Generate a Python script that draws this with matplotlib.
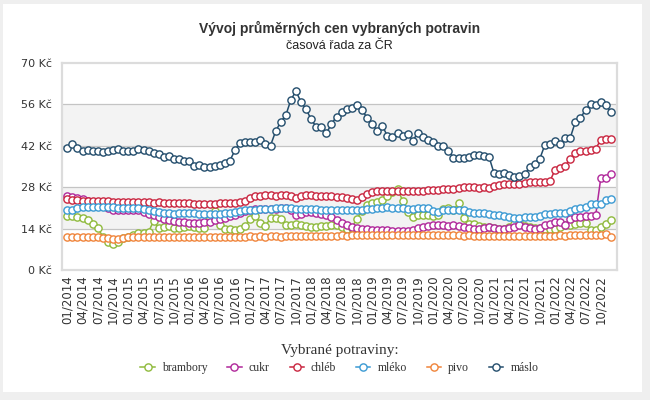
import matplotlib
matplotlib.use("Agg")
import matplotlib.pyplot as plt
from matplotlib.patches import Rectangle
from matplotlib.lines import Line2D

# mesicni prumerne ceny 01/2014 - 12/2022 (Kc)
years = list(range(2014, 2023))
months = [f"{m:02d}/{y}" for y in years for m in range(1, 13)]

brambory = [
    18.1, 18.1, 17.8, 17.5, 16.9, 15.6, 14.1, 11.3, 9.6, 8.8, 9.6, 10.7,
    11.3, 11.9, 12.4, 12.6, 13.0, 16.6, 14.1, 14.5, 14.8, 14.2, 14.3, 14.6,
    14.8, 14.5, 14.2, 14.3, 17.5, 19.8, 15.3, 14.0, 13.8, 13.6, 13.9, 14.8,
    17.2, 18.3, 15.8, 15.0, 17.5, 17.5, 17.4, 15.3, 15.3, 15.4, 15.2, 14.8,
    14.6, 14.6, 14.8, 15.0, 15.1, 15.2, 14.5, 14.0, 14.3, 17.4, 20.0, 22.0,
    22.5, 23.0, 23.7, 25.0, 26.5, 27.5, 23.4, 19.7, 17.8, 18.5, 18.5, 18.6,
    18.4, 18.6, 20.5, 21.0, 20.4, 22.5, 17.5, 15.5, 15.4, 14.8, 14.6, 14.4,
    14.2, 14.0, 14.0, 14.5, 15.7, 16.2, 15.0, 14.5, 14.3, 14.2, 14.0, 14.0,
    14.0, 14.6, 15.1, 15.2, 15.5, 15.9, 15.8, 13.6, 13.4, 14.6, 15.7, 16.8]

cukr = [
    24.9, 24.7, 24.4, 24.0, 23.5, 23.0, 22.3, 21.5, 20.8, 20.4, 20.3, 20.3,
    20.3, 20.2, 20.2, 19.6, 19.0, 18.5, 17.9, 17.4, 17.0, 16.6, 16.3, 16.1,
    16.0, 15.9, 15.9, 16.1, 16.4, 16.8, 17.3, 17.7, 18.1, 18.6, 19.2, 19.8,
    20.3, 20.5, 20.6, 20.6, 20.5, 20.7, 20.9, 21.0, 20.2, 18.6, 18.9, 19.6,
    19.5, 19.3, 19.0, 18.6, 18.0, 16.9, 16.0, 15.2, 14.6, 14.2, 13.8, 13.7,
    13.6, 13.5, 13.4, 13.4, 13.3, 13.3, 13.2, 13.3, 13.4, 14.1, 14.6, 15.0,
    15.1, 15.2, 15.1, 15.0, 15.2, 15.0, 14.5, 14.1, 14.0, 14.0, 14.2, 14.6,
    14.3, 14.0, 14.0, 14.1, 14.5, 15.3, 14.4, 14.2, 14.0, 14.3, 15.2, 15.6,
    16.2, 16.2, 15.3, 17.2, 17.8, 18.0, 18.1, 18.3, 18.5, 31.0, 31.1, 32.4]

chleb = [
    23.9, 23.8, 23.6, 23.5, 23.4, 23.4, 23.3, 23.2, 23.3, 23.1, 23.0, 23.0,
    23.1, 23.0, 23.0, 23.0, 22.9, 22.8, 22.9, 22.7, 22.6, 22.6, 22.5, 22.5,
    22.5, 22.4, 22.4, 22.3, 22.3, 22.4, 22.5, 22.6, 22.6, 22.8, 23.0, 23.4,
    24.2, 24.9, 25.1, 25.2, 25.2, 25.1, 25.2, 25.2, 25.1, 24.3, 25.1, 25.2,
    25.2, 25.1, 25.1, 25.0, 24.9, 24.8, 24.7, 24.5, 24.0, 23.8, 24.6, 25.6,
    26.3, 26.7, 26.8, 26.8, 26.7, 26.8, 26.7, 26.8, 26.7, 26.7, 26.8, 26.9,
    27.0, 27.1, 27.3, 27.4, 27.5, 27.8, 28.0, 28.2, 28.0, 27.7, 27.9, 27.8,
    28.3, 28.8, 29.0, 29.0, 29.0, 29.1, 29.5, 29.7, 29.7, 29.8, 29.8, 30.1,
    33.8, 34.5, 35.2, 37.6, 39.6, 40.3, 40.4, 40.6, 41.0, 44.0, 44.4, 44.4]

mleko = [
    20.2, 20.3, 21.0, 21.3, 21.4, 21.4, 21.4, 21.3, 21.3, 21.2, 21.0, 20.9,
    20.9, 20.8, 20.8, 20.6, 20.3, 19.9, 19.6, 19.4, 19.2, 19.1, 19.2, 19.3,
    19.3, 19.2, 19.0, 18.9, 18.8, 18.9, 19.0, 19.2, 19.4, 19.6, 19.9, 20.2,
    20.3, 20.4, 20.5, 20.5, 20.6, 20.8, 20.9, 20.8, 20.8, 20.6, 20.5, 20.7,
    20.6, 20.5, 20.3, 20.3, 20.4, 20.3, 20.2, 20.3, 20.3, 20.2, 20.4, 20.5,
    20.6, 20.8, 21.0, 21.2, 20.9, 20.8, 20.8, 20.7, 20.6, 20.8, 21.0, 21.1,
    19.8, 19.6, 20.3, 20.4, 20.3, 20.2, 20.4, 19.6, 19.4, 19.3, 19.3, 18.9,
    18.7, 18.5, 18.4, 18.0, 17.7, 17.7, 17.8, 17.8, 17.9, 18.3, 18.8, 19.0,
    19.3, 19.3, 19.4, 20.0, 20.6, 21.1, 21.2, 22.3, 22.4, 22.4, 23.8, 23.9]

pivo = [
    11.2, 11.1, 11.1, 11.2, 11.1, 11.1, 11.0, 10.9, 10.7, 10.6, 10.5, 10.8,
    11.0, 11.1, 11.0, 11.1, 11.1, 11.0, 11.1, 11.1, 11.0, 11.0, 11.1, 11.2,
    11.2, 11.2, 11.1, 11.2, 11.2, 11.1, 11.2, 11.2, 11.3, 11.2, 11.3, 11.3,
    11.4, 11.3, 11.4, 11.3, 11.4, 11.4, 11.3, 11.4, 11.4, 11.5, 11.5, 11.4,
    11.6, 11.6, 11.5, 11.6, 11.5, 11.6, 11.7, 11.6, 11.7, 11.7, 11.8, 11.7,
    11.8, 11.8, 11.7, 11.8, 11.7, 11.8, 11.8, 11.7, 11.8, 11.8, 11.7, 11.8,
    11.9, 11.8, 11.9, 11.8, 11.7, 11.8, 11.6, 11.7, 11.6, 11.6, 11.5, 11.6,
    11.5, 11.4, 11.4, 11.5, 11.4, 11.5, 11.4, 11.4, 11.5, 11.5, 11.6, 11.6,
    11.6, 11.7, 11.6, 11.7, 11.7, 11.8, 11.7, 11.8, 11.8, 11.9, 12.2, 11.3]

maslo = [
    41.3, 42.6, 41.1, 40.4, 40.5, 40.4, 40.2, 39.9, 40.3, 40.5, 40.8, 40.2,
    40.2, 40.3, 40.9, 40.5, 40.4, 39.7, 39.3, 38.2, 38.5, 37.6, 37.6, 36.7,
    36.7, 35.1, 35.4, 34.8, 34.9, 35.1, 35.6, 36.2, 37.0, 40.5, 43.0, 43.2,
    43.2, 43.2, 44.0, 42.5, 42.1, 46.9, 50.1, 52.3, 57.5, 60.5, 56.8, 54.4,
    50.9, 48.4, 48.2, 46.2, 49.5, 51.8, 53.5, 54.3, 54.8, 55.9, 54.1, 51.5,
    49.3, 47.1, 48.8, 45.3, 45.0, 46.2, 45.3, 46.0, 43.7, 46.4, 45.0, 43.9,
    43.2, 41.9, 42.1, 40.3, 38.0, 38.0, 38.0, 38.3, 38.8, 39.0, 38.7, 38.3,
    32.7, 32.4, 32.8, 32.2, 31.6, 31.8, 32.3, 34.7, 35.9, 37.6, 42.3, 42.7,
    43.6, 42.5, 44.5, 44.7, 50.1, 51.4, 54.1, 56.0, 55.8, 56.7, 55.7, 53.5]

series_names = ["brambory", "cukr", "chléb", "mléko", "pivo", "máslo"]
series_values = [brambory, cukr, chleb, mleko, pivo, maslo]
colors = ["#8fba3c", "#b0279a", "#c9253f", "#3b9ad3", "#f0843a", "#234d6c"]
y_ticks = [0, 14, 28, 42, 56, 70]

W, H = 650, 400
fig = plt.figure(figsize=(6.5, 4), dpi=100)
fig.patch.set_facecolor("#efefef")
fig.patches.append(Rectangle((3 / W, 1 - 392 / H), 639 / W, 388 / H,
                             transform=fig.transFigure, facecolor="white",
                             edgecolor="none", zorder=-10))

ax = fig.add_axes([62 / W, 1 - 270 / H, 555 / W, 207 / H])
ax.set_facecolor("white")
x = list(range(len(months)))

# pasy a mrizka
ax.axhspan(14, 28, color="#f3f3f3", zorder=0, lw=0)
ax.axhspan(42, 56, color="#f3f3f3", zorder=0, lw=0)
for yv in y_ticks[1:-1]:
    ax.axhline(yv, color="#c4c4c4", lw=0.9, zorder=1)

for name, vals, c in zip(series_names, series_values, colors):
    ax.plot(x, vals, color=c, lw=1.1, marker="o", markersize=5.2,
            markerfacecolor="white", markeredgecolor=c, markeredgewidth=1.0,
            zorder=3, label=name)

ax.set_xlim(-1.05, 108.2)
ax.set_ylim(0, 70)
ax.set_yticks(y_ticks)
ax.set_yticklabels([f"{v} Kč" for v in y_ticks])
ax.set_xticks(x[::3])
ax.set_xticklabels(months[::3], rotation=90, va="top", ha="center")
ax.tick_params(axis="both", length=0, labelsize=8, colors="#333333")
ax.tick_params(axis="x", labelsize=8.5, pad=4)
ax.tick_params(axis="y", pad=7)
for s in ax.spines.values():
    s.set_color("#dcdcdc")
    s.set_linewidth(1.6)

cx = (62 + 617) / 2 / W
fig.text(cx, 1 - 28 / H, "Vývoj průměrných cen vybraných potravin",
         ha="center", va="center", fontsize=10, fontweight="bold",
         family="Liberation Sans", color="#333333")
fig.text(cx, 1 - 46 / H, "časová řada za ČR", ha="center", va="center",
         fontsize=9, family="Liberation Sans", color="#222222")

handles = [Line2D([0], [0], color=c, lw=1.1, marker="o", markersize=5.2,
                  markerfacecolor="white", markeredgecolor=c,
                  markeredgewidth=1.0) for c in colors]
leg = fig.legend(handles, series_names, loc="center",
                 bbox_to_anchor=(cx, 1 - 359 / H), ncol=6, frameon=False,
                 title="Vybrané potraviny:",
                 prop={"family": "Liberation Serif", "size": 8.5},
                 title_fontproperties={"family": "Liberation Serif", "size": 11},
                 handlelength=1.2, handletextpad=0.6, columnspacing=1.7,
                 borderpad=0.2)
for t in leg.get_texts():
    t.set_color("#333333")
leg.get_title().set_color("#333333")

fig.savefig("out.png", dpi=100, facecolor=fig.get_facecolor())
